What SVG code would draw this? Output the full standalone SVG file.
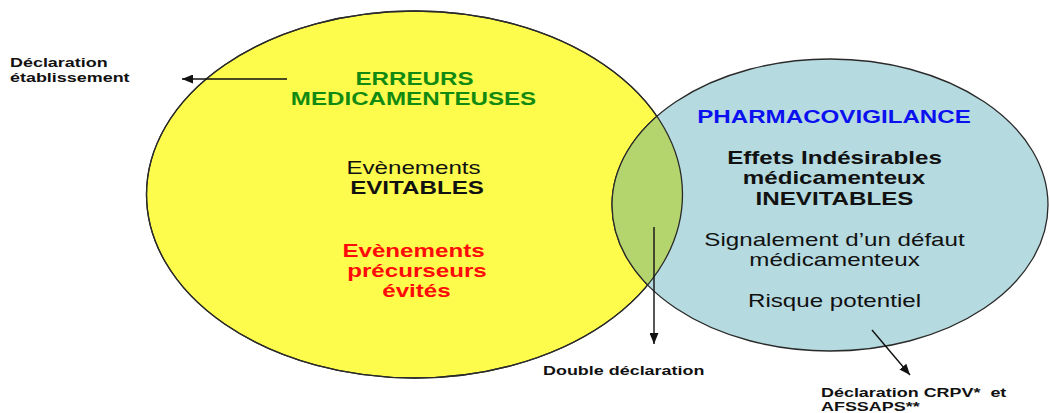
<svg xmlns="http://www.w3.org/2000/svg" width="1049" height="413" viewBox="0 0 1049 413">
  <style>
    text { font-family: "Liberation Sans", Arial, sans-serif; }
    .big { font-size: 17.5px; text-anchor: middle; }
    .small { font-size: 13px; font-weight: bold; fill: #111; }
    .b { font-weight: bold; }
    .green { fill: #128a12; }
    .blue { fill: #0a10f0; }
    .red { fill: #ff0a0a; }
    .ink { fill: #111; }
    .outline { fill: none; stroke: #2a2a2a; stroke-width: 1.3; }
    .arrow { stroke: #111; stroke-width: 1.4; fill: none; marker-end: url(#head); }
  </style>
  <defs>
    <marker id="head" markerUnits="userSpaceOnUse" viewBox="0 0 11 9" refX="11" refY="4.5" markerWidth="11" markerHeight="9" orient="auto">
      <path d="M0,0 L11,4.5 L0,9 z" fill="#111"/>
    </marker>
    <clipPath id="clipErreurs">
      <ellipse cx="414.5" cy="194.5" rx="268" ry="183.5"/>
    </clipPath>
  </defs>

  <rect width="1049" height="413" fill="#ffffff"/>

  <!-- Medication errors set -->
  <g id="erreurs">
    <ellipse cx="414.5" cy="194.5" rx="268" ry="183.5" fill="#fdfc4c" stroke="#2a2a2a" stroke-width="1.3"/>
  </g>

  <!-- Pharmacovigilance set -->
  <g id="pharmacovigilance">
    <ellipse cx="830" cy="205" rx="218" ry="146" fill="#b5dadf" stroke="#2a2a2a" stroke-width="1.3"/>
  </g>

  <!-- Intersection of both sets -->
  <g id="intersection">
    <ellipse cx="830" cy="205" rx="218" ry="146" fill="#b4d46e" stroke="#2a2a2a" stroke-width="1.3" clip-path="url(#clipErreurs)"/>
    <ellipse class="outline" cx="414.5" cy="194.5" rx="268" ry="183.5"/>
  </g>

  <!-- Texts of the medication errors set -->
  <g id="erreurs-texte">
    <text class="big b green" transform="translate(414.5 85) scale(1.38 1)">ERREURS</text>
    <text class="big b green" transform="translate(413.5 105) scale(1.38 1)">MEDICAMENTEUSES</text>
    <text class="big ink" transform="translate(413.5 174) scale(1.38 1)">Evènements</text>
    <text class="big b ink" transform="translate(417 194) scale(1.38 1)">EVITABLES</text>
    <text class="big b red" transform="translate(413.5 257) scale(1.38 1)">Evènements</text>
    <text class="big b red" transform="translate(417 277) scale(1.38 1)">précurseurs</text>
    <text class="big b red" transform="translate(416.5 297) scale(1.38 1)">évités</text>
  </g>

  <!-- Texts of the pharmacovigilance set -->
  <g id="pharmacovigilance-texte">
    <text class="big b blue" transform="translate(834 123) scale(1.38 1)">PHARMACOVIGILANCE</text>
    <text class="big b ink" transform="translate(834.5 164) scale(1.38 1)">Effets Indésirables</text>
    <text class="big b ink" transform="translate(834 184) scale(1.38 1)">médicamenteux</text>
    <text class="big b ink" transform="translate(834.5 205) scale(1.38 1)">INEVITABLES</text>
    <text class="big ink" transform="translate(834.5 246) scale(1.38 1)">Signalement d’un défaut</text>
    <text class="big ink" transform="translate(834.5 266) scale(1.38 1)">médicamenteux</text>
    <text class="big ink" transform="translate(834.5 307) scale(1.38 1)">Risque potentiel</text>
  </g>

  <!-- Reporting arrows -->
  <g id="connectors">
    <line class="arrow" x1="287" y1="79" x2="182" y2="79"/>
    <line class="arrow" x1="654" y1="227" x2="654" y2="344"/>
    <line class="arrow" x1="872" y1="330" x2="910" y2="375"/>
  </g>

  <!-- Reporting destinations -->
  <g id="declaration-etablissement">
    <text class="small" transform="translate(10 67) scale(1.38 1)">Déclaration</text>
    <text class="small" transform="translate(10 82) scale(1.38 1)">établissement</text>
  </g>
  <g id="double-declaration">
    <text class="small" transform="translate(543 375) scale(1.38 1)">Double déclaration</text>
  </g>
  <g id="declaration-crpv">
    <text class="small" xml:space="preserve" transform="translate(821 397) scale(1.38 1)">Déclaration CRPV*  et</text>
    <text class="small" transform="translate(821 411) scale(1.38 1)">AFSSAPS**</text>
  </g>
</svg>
